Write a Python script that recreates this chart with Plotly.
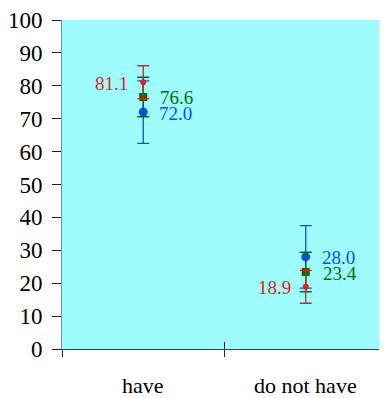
import plotly.graph_objects as go

categories = ["have", "do not have"]
cat_pos = [0.5, 1.5]
red_vals = [81.1, 18.9]
red_err = [5.0, 5.0]
green_vals = [76.6, 23.4]
green_err = [6.0, 6.0]
blue_vals = [72.0, 28.0]
blue_err = [9.5, 9.5]
y_ticks = [0, 10, 20, 30, 40, 50, 60, 70, 80, 90, 100]

RED = "#f01818"
GREEN = "#007000"
BLUE = "#0a4cff"
FONT = "Liberation Serif, Times New Roman, serif"
LABEL_SIZE = 19

fig = go.Figure()

series = [
    (blue_vals, blue_err, BLUE, 9, "circle", "left", 14),
    (green_vals, green_err, GREEN, 8, "square", "left", 15),
    (red_vals, red_err, RED, 6, "circle", "right", -13),
]
for vals, errs, col, msize, sym, anchor, shift in series:
    fig.add_trace(go.Scatter(
        x=cat_pos, y=vals, mode="markers",
        marker=dict(color=col, size=msize, symbol=sym, line=dict(width=0)),
        error_y=dict(type="data", array=errs, color=col, thickness=1.3, width=6),
        cliponaxis=False, showlegend=False))
    for p, v in zip(cat_pos, vals):
        fig.add_annotation(x=p, y=v, xref="x", yref="y", text=f"{v:.1f}",
                           showarrow=False, xanchor=anchor, xshift=shift, yshift=-1,
                           font=dict(color=col, size=LABEL_SIZE, family=FONT))

for c, p in zip(categories, cat_pos):
    fig.add_annotation(x=p, y=-0.112, xref="x", yref="paper", yanchor="middle",
                       text=c, showarrow=False,
                       font=dict(size=22, family=FONT, color="black"))

fig.update_layout(
    width=379, height=390,
    margin=dict(l=53, r=0, t=10, b=49),
    paper_bgcolor="white", plot_bgcolor="#9ffcfc",
    font=dict(family=FONT, color="black"),
    xaxis2=dict(overlaying="x", side="bottom", range=[0, 2], tickvals=[0, 1, 2],
                ticktext=["", "", ""], ticks="inside", ticklen=7, tickcolor="#222",
                showgrid=False, showline=False, zeroline=False),
)
fig.layout.xaxis.update(range=[0, 2], tickvals=[0, 1, 2], ticktext=["", "", ""],
                        ticks="outside", ticklen=7, tickcolor="#222", showgrid=False,
                        showline=True, linecolor="#444", linewidth=1, zeroline=False)
fig.update_yaxes(range=[0, 100], tickvals=y_ticks, ticks="outside", ticklen=9,
                 tickcolor="#222", showgrid=False, showline=True, linecolor="#888",
                 linewidth=1, zeroline=False,
                 tickfont=dict(size=23, family=FONT, color="black"),
                 ticklabeloverflow="allow", ticklabelstandoff=5)
fig.add_trace(go.Scatter(x=[0], y=[0], xaxis="x2", mode="markers",
                         marker=dict(opacity=0), hoverinfo="skip", showlegend=False))

fig.write_html("out.html")
